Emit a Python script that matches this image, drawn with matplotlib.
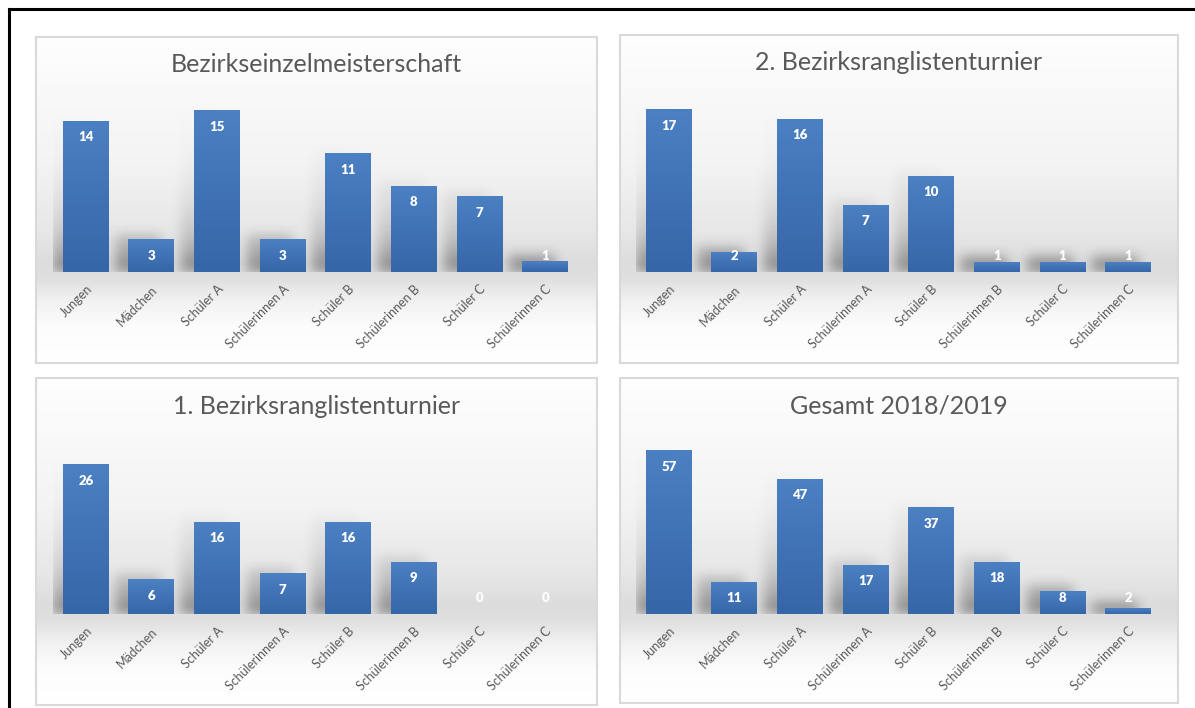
import numpy as np
import matplotlib.pyplot as plt
from matplotlib.colors import LinearSegmentedColormap
from matplotlib.lines import Line2D
from matplotlib.patches import Rectangle

plt.rcParams['font.family'] = ['Lato', 'DejaVu Sans']

# daten
kategorien = ['Jungen', 'Mädchen', 'Schüler A', 'Schülerinnen A',
              'Schüler B', 'Schülerinnen B', 'Schüler C', 'Schülerinnen C']
titel = ['Bezirkseinzelmeisterschaft', '2. Bezirksranglistenturnier',
         '1. Bezirksranglistenturnier', 'Gesamt 2018/2019']
bezirkseinzel = [14, 3, 15, 3, 11, 8, 7, 1]
rangliste_2 = [17, 2, 16, 7, 10, 1, 1, 1]
rangliste_1 = [26, 6, 16, 7, 16, 9, 0, 0]
gesamt = [57, 11, 47, 17, 37, 18, 8, 2]
y_max = [16, 18, 30, 60]

werte = [bezirkseinzel, rangliste_2, rangliste_1, gesamt]

W, H = 1195, 708
fig = plt.figure(figsize=(W/100, H/100), dpi=100)

# rahmen der panels und plotbereiche in pixeln (x0, y0, x1, y1), y von oben
panels = [(36, 37, 597, 363), (620, 35, 1178, 363),
          (36, 378, 597, 705), (620, 378, 1178, 703)]
plots = [(53, 100, 578, 272), (636, 100, 1161, 272),
         (53, 442, 578, 614), (636, 442, 1161, 614)]


def box(b):
    x0, y0, x1, y1 = b
    return [x0/W, 1 - y1/H, (x1-x0)/W, (y1-y0)/H]


balken_cmap = LinearSegmentedColormap.from_list('b', ['#3566a8', '#4b80c2'])


def hintergrund(pb, basis):
    x0, y0, x1, y1 = pb
    ax = fig.add_axes(box(pb), zorder=0)
    zeilen = np.arange(y0, y1) + 0.5
    stops_y = [y0, basis - 110, basis - 40, basis - 10, basis + 6, basis + 28, basis + 55, y1]
    stops_g = [0.995, 0.955, 0.905, 0.865, 0.875, 0.945, 0.99, 1.0]
    g = np.interp(zeilen, stops_y, stops_g)
    img = np.repeat(g[:, None], 4, axis=1)
    img = np.dstack([img, img, img])
    ax.imshow(img, extent=(0, 1, 0, 1), aspect='auto')
    ax.add_patch(Rectangle((0, 0), 1, 1, transform=ax.transAxes, fill=False,
                           edgecolor='#d9d9d9', lw=1.5, clip_on=False))
    ax.set_xlim(0, 1)
    ax.set_ylim(0, 1)
    ax.axis('off')


def schatten(ax, balken, ymax):
    bb = ax.get_window_extent()
    w, h = int(round(bb.width)), int(round(bb.height))
    xs = np.arange(w)[None, :] + 0.5
    ys = np.arange(h)[:, None] + 0.5
    maske = np.zeros((h, w))
    for p in balken:
        (bx0, by0), (bx1, by1) = ax.transData.transform(
            [(p.get_x(), 0), (p.get_x() + p.get_width(), p.get_height())]) - [bb.x0, bb.y0]
        if by1 - by0 < 1:
            continue
        dx, dy = 13, 6
        innen = (xs >= bx0 - dx) & (xs <= bx1 - dx) & (ys >= by0) & (ys <= by1 + dy)
        maske += innen * np.exp(-(ys - by0) / 38.0)
    k = np.arange(-18, 19)
    kern = np.exp(-k**2 / (2 * 6.0**2))
    kern /= kern.sum()
    maske = np.apply_along_axis(lambda r: np.convolve(r, kern, mode='same'), 1, maske)
    maske = np.apply_along_axis(lambda c: np.convolve(c, kern, mode='same'), 0, maske)
    rgba = np.zeros((h, w, 4))
    rgba[..., 3] = np.clip(maske, 0, 1) * 0.42
    ax.imshow(rgba, extent=(-0.5, len(kategorien) - 0.5, 0, ymax), origin='lower',
              aspect='auto', zorder=1)


for i in range(4):
    pb = panels[i]
    hintergrund(pb, plots[i][3])
    # titel
    fig.text((pb[0] + pb[2]) / 2 / W, 1 - (pb[1] + 28) / H, titel[i],
             ha='center', va='center', fontsize=18, color='#595959')

    ax = fig.add_axes(box(plots[i]), zorder=1)
    ax.patch.set_alpha(0)
    x = np.arange(len(kategorien))
    balken = ax.bar(x, werte[i], width=0.7, color='#4174b6', zorder=2)
    ax.set_xlim(-0.5, len(kategorien) - 0.5)
    ax.set_ylim(0, y_max[i])
    for s in ax.spines.values():
        s.set_visible(False)
    ax.set_yticks([])
    ax.set_xticks(x)
    ax.set_xticklabels(kategorien, rotation=45, ha='right', va='top',
                       rotation_mode='anchor', fontsize=9, color='#595959')
    ax.tick_params(axis='x', length=0, pad=8)

    schatten(ax, balken, y_max[i])

    # farbverlauf der balken
    grad = np.linspace(0, 1, 64)[:, None]
    for p in balken:
        if p.get_height() > 0:
            ax.imshow(grad, cmap=balken_cmap, origin='lower', aspect='auto', zorder=3,
                      extent=(p.get_x(), p.get_x() + p.get_width(), 0, p.get_height()))
    ax.set_xlim(-0.5, len(kategorien) - 0.5)
    ax.set_ylim(0, y_max[i])

    # beschriftung der werte
    for j, v in enumerate(werte[i]):
        hoehe = ax.transData.transform((0, v))[1] - ax.transData.transform((0, 0))[1]
        if hoehe - 16 >= 16:
            ax.annotate(str(v), (j, v), xytext=(0, -11.5), textcoords='offset points',
                        ha='center', va='center', color='white', fontsize=9.5,
                        fontweight='heavy', zorder=5)
        else:
            ax.annotate(str(v), (j, 0), xytext=(0, 11.5), textcoords='offset points',
                        ha='center', va='center', color='white', fontsize=9.5,
                        fontweight='heavy', zorder=5)

# schwarzer rahmen oben und links
fig.add_artist(Line2D([9/W, 1], [1 - 9/H, 1 - 9/H], color='black', lw=2.2))
fig.add_artist(Line2D([9/W, 9/W], [0, 1 - 9/H], color='black', lw=2.2))

plt.savefig('out.png', dpi=100)
